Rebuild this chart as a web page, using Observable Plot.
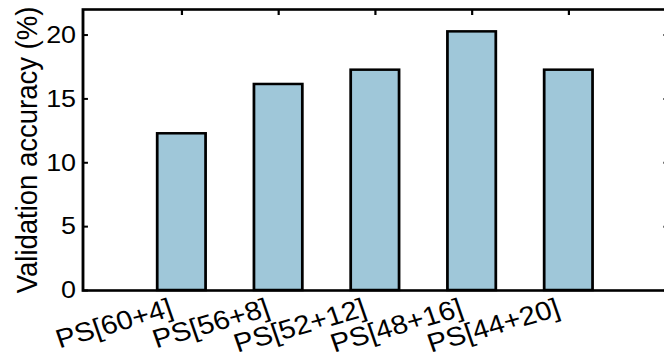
<!DOCTYPE html>
<html><head><meta charset="utf-8">
<script src="https://cdn.jsdelivr.net/npm/d3@7"></script>
<script src="https://cdn.jsdelivr.net/npm/@observablehq/plot@0.6"></script>
<style>
html,body{margin:0;padding:0;background:#fff;overflow:hidden;}
#chart{width:664px;height:358px;overflow:hidden;}
</style></head><body><div id="chart"></div>
<script>
const categories = ["PS[60+4]", "PS[56+8]", "PS[52+12]", "PS[48+16]", "PS[44+20]"];
const accuracy = [12.27, 16.13, 17.25, 20.25, 17.25];
const yTicks = [0, 5, 10, 15, 20];
const yDomain = [0, 22];
const yTitle = "Validation accuracy (%)";

const data = categories.map((c, i) => ({category: c, accuracy: accuracy[i]}));
const font = "'Liberation Sans', Arial, Helvetica, sans-serif";
const W = 608, VIEW_W = 604, H = 358;

const plot = Plot.plot({
  width: W, height: H,
  marginLeft: 75, marginRight: 0.5, marginTop: 9, marginBottom: 68,
  style: {fontFamily: font, background: "white", color: "black"},
  x: {type: "band", domain: categories, paddingInner: 0.5, paddingOuter: 0.75},
  y: {domain: yDomain},
  marks: [
    Plot.barY(data, {x: "category", y: "accuracy", fill: "#9fc7d9", stroke: "black", strokeWidth: 2.5}),
    Plot.frame({stroke: "black", strokeWidth: 2.6}),
    Plot.axisY({anchor: "left", ticks: yTicks, tickSize: -5, tickPadding: 11.3, strokeWidth: 2, fontSize: 24.5, label: null}),
    Plot.axisY({anchor: "right", ticks: yTicks, tickSize: -5, strokeWidth: 2, fill: "none", label: null}),
    Plot.axisX({anchor: "top", tickSize: -5, strokeWidth: 2, fill: "none", label: null}),
    Plot.axisX({anchor: "bottom", tickSize: 0, tickRotate: -17.5, textAnchor: "end", tickPadding: 16.8, dx: -9.25, fontSize: 26.5, label: null}),
    Plot.text([yTitle], {frameAnchor: "left", rotate: -90, dx: -61.3, textAnchor: "middle", lineAnchor: "top", fontSize: 27.5, text: d => d})
  ]
});

plot.setAttribute("viewBox", `0 0 ${VIEW_W} ${H}`);
plot.setAttribute("width", 664);
plot.setAttribute("height", H);
plot.setAttribute("preserveAspectRatio", "none");
plot.style.width = "664px";
plot.style.height = H + "px";
plot.style.maxWidth = "none";
document.getElementById("chart").append(plot);
</script>
</body></html>
